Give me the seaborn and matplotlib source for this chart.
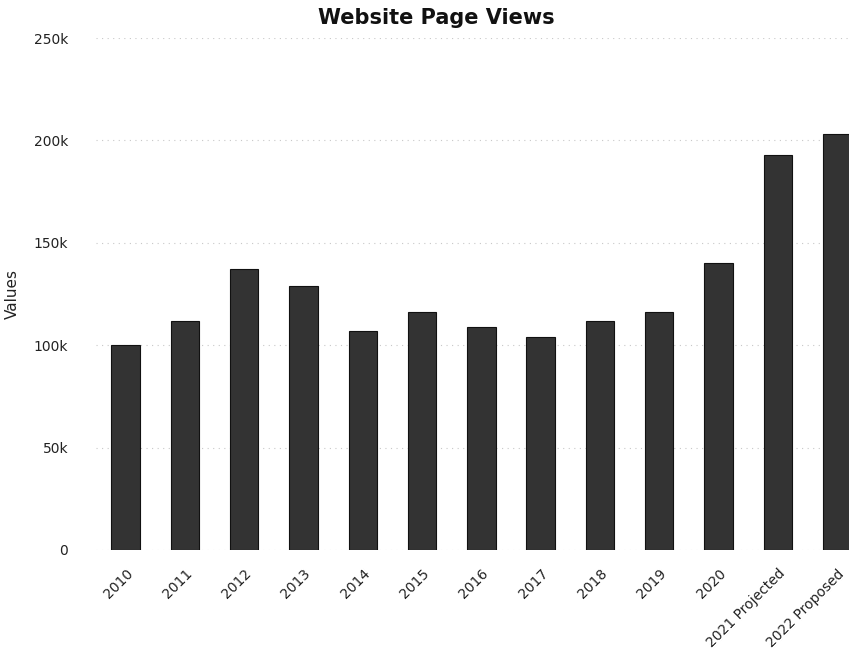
import matplotlib
matplotlib.use("Agg")
import matplotlib.pyplot as plt
import seaborn as sns
import pandas as pd
from matplotlib.ticker import FuncFormatter

years = ["2010", "2011", "2012", "2013", "2014", "2015", "2016", "2017",
         "2018", "2019", "2020", "2021 Projected", "2022 Proposed"]
views = [100000, 112000, 137000, 129000, 107000, 116000, 109000, 104000,
         112000, 116000, 140000, 193000, 203000]
yticks = [0, 50000, 100000, 150000, 200000, 250000]

df = pd.DataFrame({"Year": years, "Views": views})

sns.set_style("white")
plt.rcParams["font.family"] = ["DejaVu Sans"]

fig = plt.figure(figsize=(8.49, 6.57), dpi=100)
ax = fig.add_axes([0.113, 0.163, 0.887, 0.779])

sns.barplot(data=df, x="Year", y="Views", order=years, color="#333333",
            width=0.48, saturation=1, edgecolor="#111111", linewidth=0.8, ax=ax)

ax.set_ylim(0, 250000)
ax.set_xlim(-0.5, 12.2)
ax.set_yticks(yticks)
ax.yaxis.set_major_formatter(FuncFormatter(lambda v, p: "0" if v == 0 else f"{int(v/1000)}k"))
ax.grid(axis="y", color="#c8c8c8", linestyle=(0, (1, 4)), linewidth=0.8)
ax.set_axisbelow(True)
for s in ax.spines.values():
    s.set_visible(False)
ax.tick_params(axis="both", length=0, labelsize=10, colors="#222222")
ax.tick_params(axis="y", pad=20)
ax.tick_params(axis="x", pad=12)
plt.setp(ax.get_xticklabels(), rotation=45, ha="right", rotation_mode="anchor")
ax.set_xlabel("")
ax.set_ylabel("Values", fontsize=11, color="#222222", labelpad=10)
fig.text(0.514, 0.972, "Website Page Views", ha="center", va="center",
         fontsize=15, fontweight="bold", color="#111111")

fig.savefig("out.png", dpi=100)
